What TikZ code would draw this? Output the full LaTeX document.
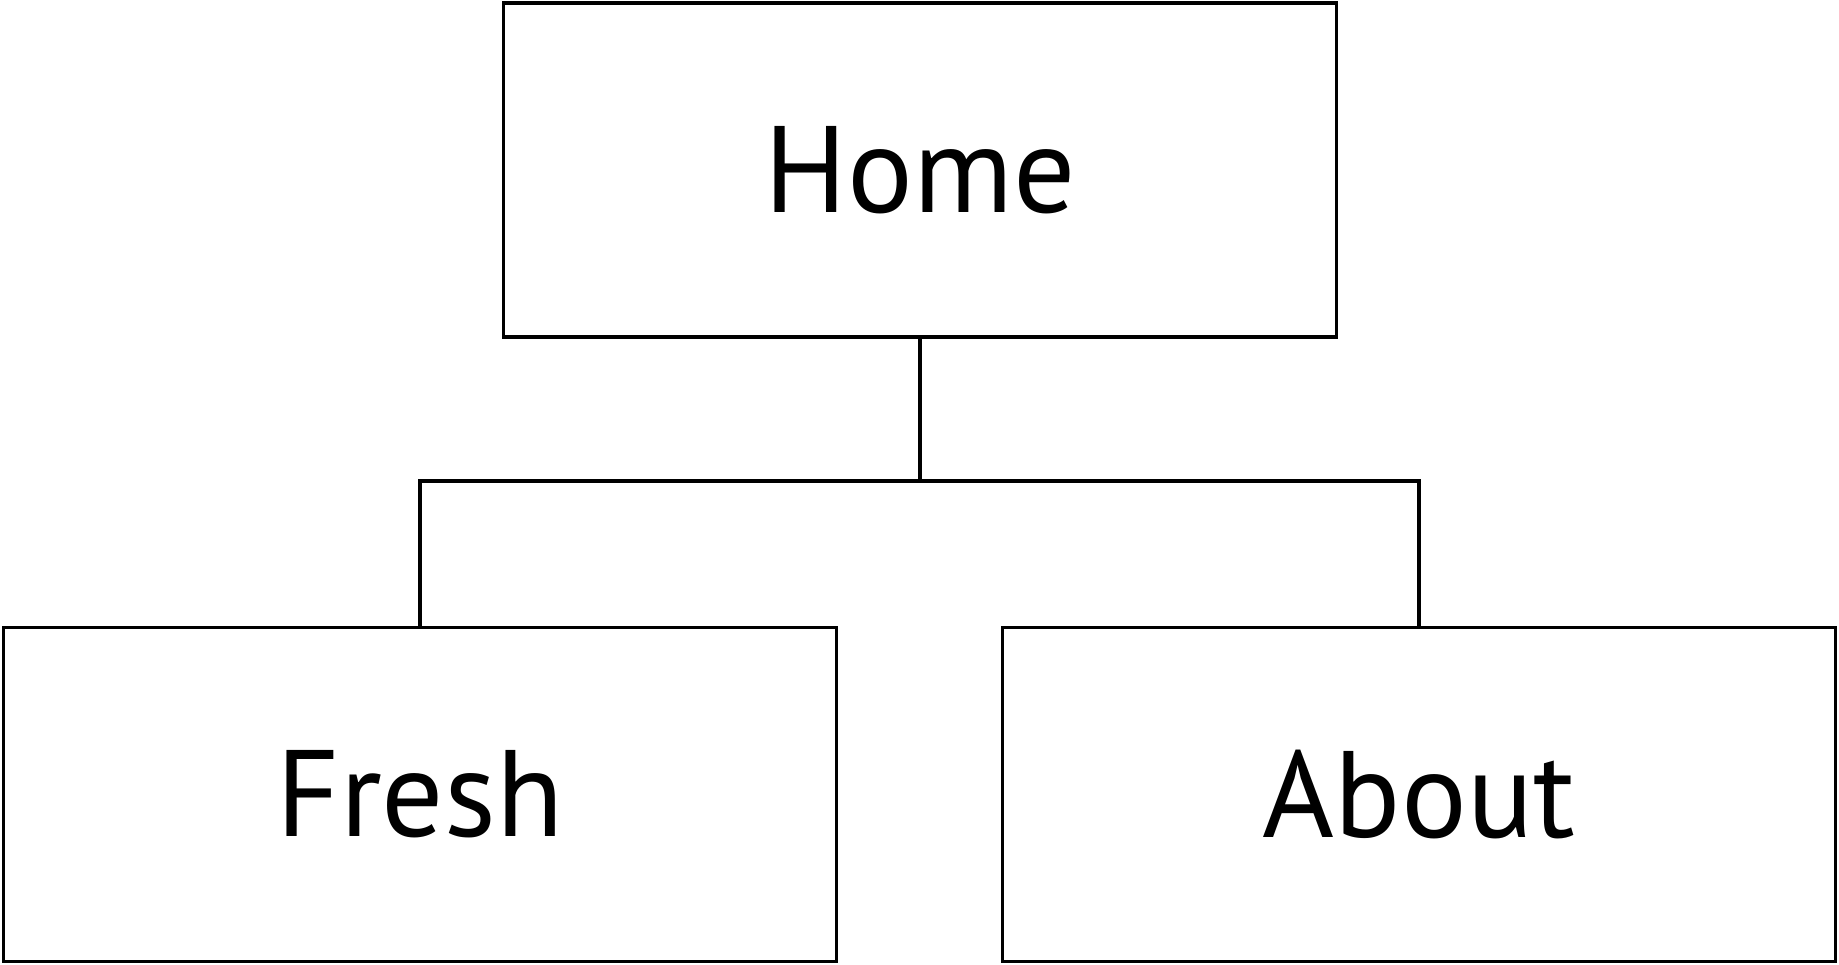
\documentclass[tikz,border=0pt]{standalone}
\usepackage{fontspec}
\setmainfont{PT Sans}
\tikzset{pg/.style = {draw, line width=1.1pt, minimum width=8.33cm, minimum height=3.34cm, inner sep=0pt, font=\fontsize{35}{40}\selectfont},
    ln/.style = {line width=1.1pt}}

\begin{document}
\begin{tikzpicture}
        \useasboundingbox (0,0) rectangle (18.39,9.64);
        \node[pg] (home) at (9.20,7.94) {Home};
        \foreach \n/\x/\t in {fresh/4.20/Fresh, about/14.19/About} \node[pg] (\n) at (\x,1.695) {\t};
        \coordinate (split) at (9.20,4.83);

        \draw[ln] (home) -- (split);
        \draw[ln] (fresh) |- (split) -| (about);
    \end{tikzpicture}
\end{document}
